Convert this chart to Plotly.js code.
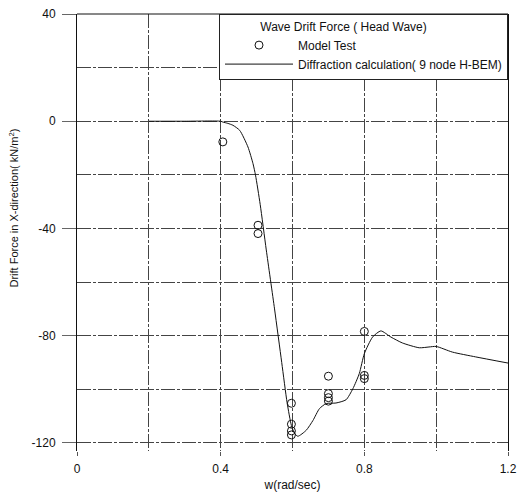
<!DOCTYPE html>
<html>
<head>
<meta charset="utf-8">
<script src="https://cdn.plot.ly/plotly-3.0.1.min.js"></script>
<style>html,body{margin:0;padding:0;background:#fff;}#chart{width:521px;height:492px;}</style>
</head>
<body>
<div id="chart"></div>
<script>
// Model test measurements
const testW = [0.406, 0.504, 0.504, 0.597, 0.597, 0.597, 0.597, 0.70, 0.70, 0.70, 0.70, 0.80, 0.80, 0.80];
const testF = [-7.7, -38.8, -41.9, -105.2, -113.0, -115.5, -117.0, -95.1, -101.6, -103.1, -104.4, -78.4, -94.8, -96.0];

// Diffraction calculation (9 node H-BEM)
const calcW = [0.20, 0.30, 0.40, 0.406, 0.42, 0.434, 0.453, 0.476, 0.490, 0.497, 0.51, 0.527, 0.55, 0.57, 0.585, 0.597, 0.606, 0.615, 0.638, 0.657, 0.675, 0.694, 0.721, 0.749, 0.768, 0.786, 0.80, 0.823, 0.846, 0.874, 0.906, 0.953, 0.98, 1.00, 1.045, 1.11, 1.20];
const calcF = [0, 0, 0, -0.3, -0.8, -1.5, -3.4, -9.6, -15.8, -20.1, -31, -48, -70, -90, -105, -113.5, -116.5, -117.5, -115.3, -111.6, -107.2, -105.3, -105.1, -103.9, -99.8, -94.1, -86.7, -80.5, -78.2, -80.5, -82.7, -84.5, -84.2, -84.0, -86.1, -87.9, -90.2];

// Tick labels
const xTickVals = [0, 0.4, 0.8, 1.2];
const xTickText = ['0', '0.4', '0.8', '1.2'];
const yTickVals = [-120, -80, -40, 0, 40];
const yTickText = ['-120', '-80', '-40', '0', '40'];

const legendTitle = 'Wave Drift Force ( Head Wave)';
const testName = 'Model Test';
const calcName = 'Diffraction calculation( 9 node H-BEM)';
const xTitle = 'w(rad/sec)';
const yTitle = 'Drift Force in X-direction( kN/m<sup>2</sup>)';

const FONT = 'Liberation Sans, Arial, sans-serif';
const gridStyle = {gridcolor: '#444', griddash: '14px,2px,3px,2px', gridwidth: 1};
const pad = '\u00a0'.repeat(12);

const traces = [
  {x: testW, y: testF, name: testName, type: 'scatter', mode: 'markers',
   marker: {symbol: 'circle-open', size: 8, color: '#111', line: {width: 1, color: '#111'}}},
  {x: calcW, y: calcF, name: calcName, type: 'scatter', mode: 'lines',
   line: {color: '#111', width: 1, shape: 'spline', smoothing: 0.6}}
];

const layout = {
  width: 521, height: 492,
  margin: {l: 77, r: 13, t: 14, b: 41},
  paper_bgcolor: '#fff', plot_bgcolor: '#fff',
  font: {family: FONT, size: 12, color: '#111'},
  showlegend: true,
  legend: {
    x: 1, xanchor: 'right', y: 1, yanchor: 'top',
    bgcolor: '#fff', bordercolor: '#222', borderwidth: 1,
    font: {family: FONT, size: 12, color: '#111'},
    title: {text: legendTitle + pad, side: 'top center', font: {family: FONT, size: 12, color: '#111'}},
    itemwidth: 68, tracegroupgap: 0
  },
  xaxis: Object.assign({
    range: [0, 1.2], tickmode: 'array', tickvals: xTickVals, ticktext: xTickText, showgrid: true,
    zeroline: false, showline: false,
    ticks: 'outside', ticklen: 4, tickcolor: '#555',
    ticklabelstandoff: 3,
    tickfont: {family: FONT, size: 12, color: '#111'},
    minor: Object.assign({dtick: 0.2, tick0: 0, showgrid: true, ticks: ''}, gridStyle),
    title: {text: xTitle, font: {family: FONT, size: 12, color: '#111'}, standoff: 5}
  }, gridStyle),
  yaxis: Object.assign({
    range: [-123, 40], tickmode: 'array', tickvals: yTickVals, ticktext: yTickText, showgrid: true,
    zeroline: false, showline: true, mirror: true, linecolor: '#111', linewidth: 1,
    ticks: 'outside', ticklen: 14, tickcolor: '#666',
    ticklabelstandoff: 4,
    tickfont: {family: FONT, size: 12, color: '#111'},
    minor: Object.assign({dtick: 20, tick0: 0, showgrid: true, ticks: ''}, gridStyle)
  }, gridStyle),
  shapes: [
    {type: 'line', xref: 'paper', yref: 'paper', x0: 0, x1: 1, y0: 1, y1: 1, line: {color: '#111', width: 1}}
  ],
  annotations: [
    {text: yTitle, xref: 'paper', yref: 'paper', x: -0.146, y: 0.555, textangle: -90,
     showarrow: false, xanchor: 'center', yanchor: 'middle', font: {family: FONT, size: 11, color: '#111'}}
  ]
};

Plotly.newPlot('chart', traces, layout, {displayModeBar: false, staticPlot: true});
</script>
</body>
</html>
